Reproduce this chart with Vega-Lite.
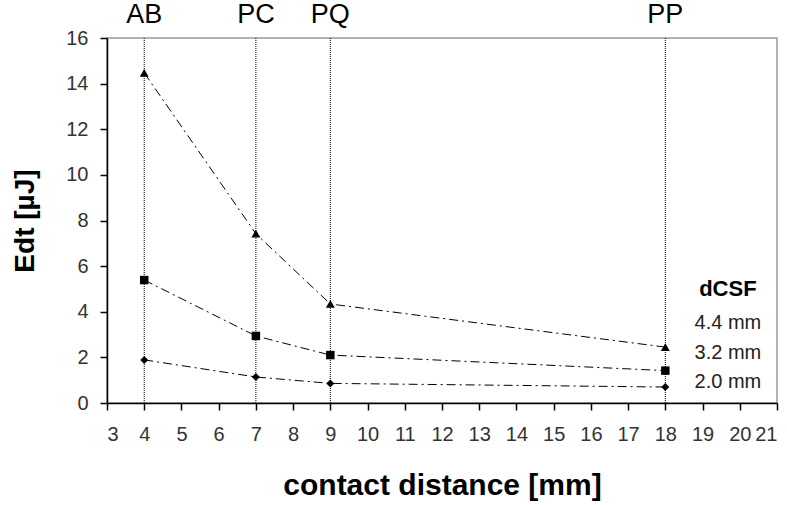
{
  "$schema": "https://vega.github.io/schema/vega-lite/v6.json",
  "width": 670,
  "height": 365,
  "autosize": {"type": "none"},
  "padding": {"left": 107, "top": 38, "right": 10, "bottom": 102},
  "background": "white",
  "config": {
    "view": {"stroke": "#999999", "strokeWidth": 1.5},
    "font": "Liberation Sans"
  },
  "datasets": {
    "series": [
      {"x": 4, "y": 14.47, "s": "4.4 mm"},
      {"x": 7, "y": 7.42, "s": "4.4 mm"},
      {"x": 9, "y": 4.34, "s": "4.4 mm"},
      {"x": 18, "y": 2.45, "s": "4.4 mm"},
      {"x": 4, "y": 5.39, "s": "3.2 mm"},
      {"x": 7, "y": 2.94, "s": "3.2 mm"},
      {"x": 9, "y": 2.1, "s": "3.2 mm"},
      {"x": 18, "y": 1.42, "s": "3.2 mm"},
      {"x": 4, "y": 1.89, "s": "2.0 mm"},
      {"x": 7, "y": 1.14, "s": "2.0 mm"},
      {"x": 9, "y": 0.86, "s": "2.0 mm"},
      {"x": 18, "y": 0.7, "s": "2.0 mm"}
    ],
    "marks": [
      {"x": 4, "label": "AB"},
      {"x": 7, "label": "PC"},
      {"x": 9, "label": "PQ"},
      {"x": 18, "label": "PP"}
    ],
    "legend": [
      {"x": 19.68, "y": 5.0, "t": "dCSF", "head": true},
      {"x": 19.68, "y": 3.5, "t": "4.4 mm", "head": false},
      {"x": 19.68, "y": 2.19, "t": "3.2 mm", "head": false},
      {"x": 19.68, "y": 0.92, "t": "2.0 mm", "head": false}
    ]
  },
  "encoding": {
    "x": {
      "field": "x",
      "type": "quantitative",
      "scale": {"domain": [3, 21], "nice": false, "zero": false},
      "axis": {
        "values": [3, 4, 5, 6, 7, 8, 9, 10, 11, 12, 13, 14, 15, 16, 17, 18, 19, 20, 21],
        "tickCount": 30,
        "format": "d",
        "labelOverlap": false,
        "grid": false,
        "tickSize": 7,
        "tickColor": "black",
        "tickWidth": 1.5,
        "domainColor": "black",
        "domainWidth": 1.5,
        "labelFontSize": 20,
        "labelColor": "#333333",
        "labelPadding": 14,
        "title": "contact distance [mm]",
        "titleFontSize": 30,
        "titleFontWeight": "bold",
        "titleColor": "black",
        "titlePadding": 26
      }
    }
  },
  "layer": [
    {
      "data": {"name": "marks"},
      "mark": {"type": "rule", "color": "black", "strokeWidth": 1, "strokeDash": [1, 1]}
    },
    {
      "data": {"name": "marks"},
      "mark": {"type": "text", "fontSize": 27, "color": "black", "baseline": "bottom", "dy": -9, "clip": false},
      "encoding": {
        "y": {"datum": 16, "type": "quantitative"},
        "text": {"field": "label"}
      }
    },
    {
      "data": {"name": "series"},
      "mark": {"type": "line", "color": "black", "strokeWidth": 1, "strokeDash": [9, 4, 2, 4]},
      "encoding": {
        "y": {
          "field": "y",
          "type": "quantitative",
          "scale": {"domain": [0, 16], "nice": false},
          "axis": {
            "values": [0, 2, 4, 6, 8, 10, 12, 14, 16],
            "tickCount": 20,
            "format": "d",
            "labelOverlap": false,
            "grid": false,
            "tickSize": 7,
            "tickColor": "black",
            "tickWidth": 1.5,
            "domainColor": "black",
            "domainWidth": 1.5,
            "labelFontSize": 20,
            "labelColor": "#333333",
            "labelPadding": 12,
            "title": "Edt [µJ]",
            "titleFontSize": 28,
            "titleFontWeight": "bold",
            "titleColor": "black",
            "titlePadding": 26
          }
        },
        "detail": {"field": "s"}
      }
    },
    {
      "data": {"name": "series"},
      "mark": {"type": "point", "filled": true, "color": "black", "opacity": 1},
      "encoding": {
        "y": {"field": "y", "type": "quantitative"},
        "shape": {
          "field": "s",
          "type": "nominal",
          "scale": {"domain": ["4.4 mm", "3.2 mm", "2.0 mm"], "range": ["triangle-up", "square", "diamond"]},
          "legend": null
        },
        "size": {
          "field": "s",
          "type": "nominal",
          "scale": {"domain": ["4.4 mm", "3.2 mm", "2.0 mm"], "range": [80, 64, 60]},
          "legend": null
        }
      }
    },
    {
      "data": {"name": "legend"},
      "transform": [{"filter": "datum.head"}],
      "mark": {"type": "text", "color": "black", "align": "center", "baseline": "middle", "fontWeight": "bold", "fontSize": 22},
      "encoding": {
        "y": {"field": "y", "type": "quantitative"},
        "text": {"field": "t"}
      }
    },
    {
      "data": {"name": "legend"},
      "transform": [{"filter": "!datum.head"}],
      "mark": {"type": "text", "color": "#222222", "align": "center", "baseline": "middle", "fontSize": 20},
      "encoding": {
        "y": {"field": "y", "type": "quantitative"},
        "text": {"field": "t"}
      }
    }
  ]
}
